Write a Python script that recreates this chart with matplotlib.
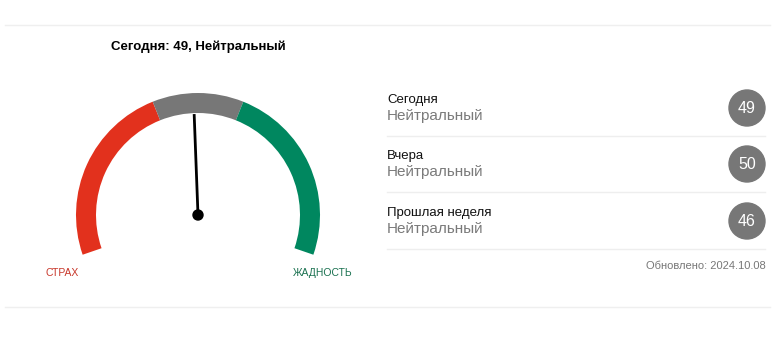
import numpy as np
import matplotlib.pyplot as plt
from matplotlib.patches import Wedge, Circle

# gauge data
value = 49
mood = 'Нейтральный'
zone_edges = [0, 40, 60, 100]
zone_colors = ['#e2311d', '#777777', '#00875f']

# history panel
periods = ['Сегодня', 'Вчера', 'Прошлая неделя']
period_values = [49, 50, 46]
period_moods = ['Нейтральный', 'Нейтральный', 'Нейтральный']
updated = '2024.10.08'

plt.rcParams['font.family'] = ['Liberation Sans', 'DejaVu Sans']

fig = plt.figure(figsize=(7.75, 3.4), dpi=100, facecolor='w')
ax = fig.add_axes([0, 0, 1, 1])
ax.set_xlim(0, 775)
ax.set_ylim(340, 0)
ax.set_aspect('equal')
ax.axis('off')

# gauge geometry (pixels)
cx, cy = 198, 215
r_out, r_in = 122, 102
span = 218.0
start = 90 + span / 2


def val2ang(v):
    return start - v / 100.0 * span


# y axis is inverted, so angles flip sign
for lo, hi, c in zip(zone_edges[:-1], zone_edges[1:], zone_colors):
    a1, a2 = -val2ang(lo), -val2ang(hi)
    ax.add_patch(Wedge((cx, cy), r_out, a1, a2, width=r_out - r_in,
                       facecolor=c, edgecolor='none'))

ang = np.radians(val2ang(value))
ax.plot([cx, cx + (r_in - 1) * np.cos(ang)], [cy, cy - (r_in - 1) * np.sin(ang)],
        color='black', lw=2, solid_capstyle='butt')
ax.add_patch(Circle((cx, cy), 5, color='black'))

ax.text(cx, 47, f'Сегодня: {value}, {mood}', ha='center', va='center',
        fontsize=9.5, fontweight='bold')
ax.text(45, 273, 'СТРАХ', ha='left', va='center', fontsize=7.5, color='#c8372a')
ax.text(293, 273, 'ЖАДНОСТЬ', ha='left', va='center', fontsize=7.5, color='#1a7150')

# frame lines
ax.plot([5, 770], [25, 25], color='#efefef', lw=1)
ax.plot([5, 770], [307, 307], color='#efefef', lw=1)

# history list
row_y = [108, 164, 221]
for i, (p, v, m) in enumerate(zip(periods, period_values, period_moods)):
    y = row_y[i]
    ax.text(387, y - 8, p, ha='left', va='center', fontsize=9.5, color='#111111')
    ax.text(387, y + 8, m, ha='left', va='center', fontsize=11, color='#7a7a7a')
    ax.add_patch(Circle((747, y), 18, color='#777777'))
    ax.text(747, y + 0.5, str(v), ha='center', va='center', fontsize=11.5, color='white')
    ax.plot([387, 765], [y + 28, y + 28], color='#eeeeee', lw=1)

ax.text(766, 266, f'Обновлено: {updated}', ha='right', va='center',
        fontsize=8, color='#777777')

fig.savefig('out.png', dpi=100, facecolor='w')
